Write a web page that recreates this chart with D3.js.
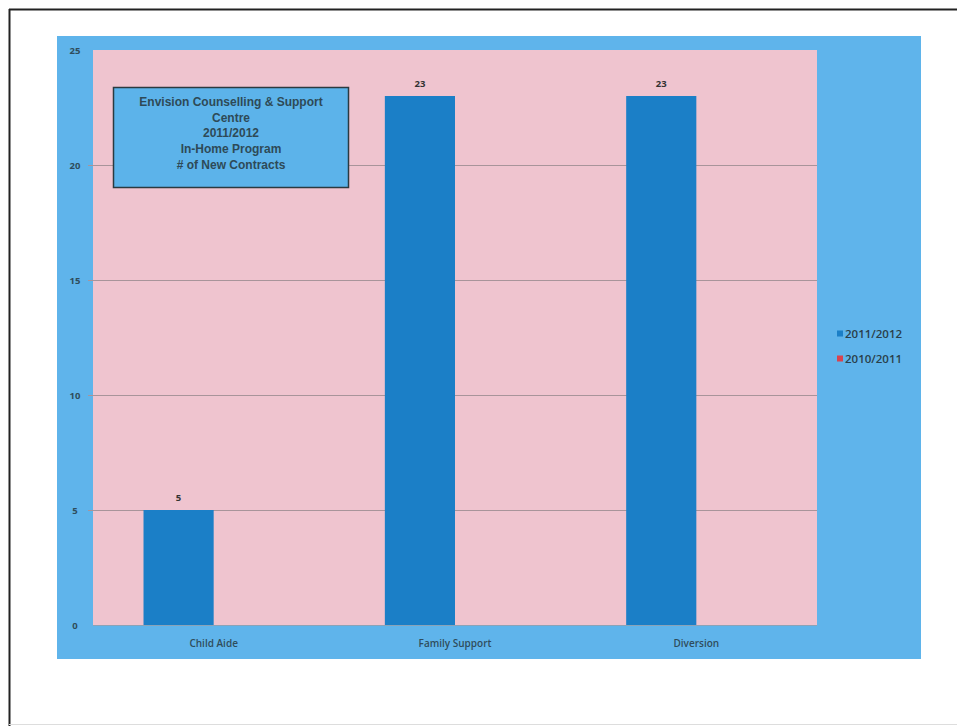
<!DOCTYPE html>
<html><head><meta charset="utf-8">
<script src="https://cdn.jsdelivr.net/npm/d3@7/dist/d3.min.js"></script>
<style>html,body{margin:0;padding:0;background:#fff;}svg{display:block;}</style>
</head><body>
<script>
const categories = ["Child Aide", "Family Support", "Diversion"];
const seriesNames = ["2011/2012", "2010/2011"];
const series2011 = [5, 23, 23];
const series2010 = [0, 0, 0];
const yTicks = [0, 5, 10, 15, 20, 25];
const titleLines = ["Envision Counselling & Support", "Centre", "2011/2012", "In-Home Program", "# of New Contracts"];

const W = 957, H = 726;
const svg = d3.select("body").append("svg").attr("width", W).attr("height", H);

// page frame
svg.append("rect").attr("width", W).attr("height", H).attr("fill", "#fff");
svg.append("line").attr("x1", 9).attr("x2", W).attr("y1", 9.5).attr("y2", 9.5).attr("stroke", "#222").attr("stroke-width", 2);
svg.append("line").attr("x1", 9.5).attr("x2", 9.5).attr("y1", 9).attr("y2", H).attr("stroke", "#222").attr("stroke-width", 2);
svg.append("line").attr("x1", 9).attr("x2", W).attr("y1", 724.5).attr("y2", 724.5).attr("stroke", "#ddd").attr("stroke-width", 1);

// chart background
svg.append("rect").attr("x", 57).attr("y", 36).attr("width", 864).attr("height", 623).attr("fill", "#5fb4eb");

const plot = {left: 93, right: 817, top: 50, bottom: 625};
svg.append("rect").attr("x", plot.left).attr("y", plot.top)
  .attr("width", plot.right - plot.left).attr("height", plot.bottom - plot.top).attr("fill", "#efc4cf");

const x = d3.scaleBand().domain(categories).range([plot.left, plot.right]).padding(0);
const xs = d3.scaleBand().domain(seriesNames).range([0, x.bandwidth()]).paddingInner(0).paddingOuter(0.72);
const y = d3.scaleLinear().domain([0, 25]).range([plot.bottom, plot.top]);

const colors = {"2011/2012": "#1b7fc7", "2010/2011": "#d8434f"};

// gridlines
svg.append("g").selectAll("line").data(yTicks.filter(t => t > 0 && t < 25)).join("line")
  .attr("x1", 88).attr("x2", plot.right)
  .attr("y1", d => Math.round(y(d)) + 0.5).attr("y2", d => Math.round(y(d)) + 0.5)
  .attr("stroke", "#a8949a").attr("stroke-width", 1.2);

// y tick labels
svg.append("g").selectAll("text").data(yTicks).join("text")
  .attr("x", 75).attr("y", d => y(d) + 3.5)
  .attr("text-anchor", "middle")
  .attr("font-family", "Open Sans, DejaVu Sans, sans-serif").attr("font-size", 9.5).attr("font-weight", "bold")
  .attr("fill", "#2f4d5c").text(d => d);

// bars
const data = [];
categories.forEach((c, i) => {
  data.push({cat: c, s: "2011/2012", v: series2011[i]});
  data.push({cat: c, s: "2010/2011", v: series2010[i]});
});
const shown = data.filter(d => d.v > 0);
svg.append("g").selectAll("rect").data(shown).join("rect")
  .attr("x", d => x(d.cat) + xs(d.s))
  .attr("width", xs.bandwidth())
  .attr("y", d => y(d.v))
  .attr("height", d => y(0) - y(d.v))
  .attr("fill", d => colors[d.s]);

// value labels
svg.append("g").selectAll("text").data(shown).join("text")
  .attr("x", d => x(d.cat) + xs(d.s) + xs.bandwidth() / 2)
  .attr("y", d => y(d.v) - 9)
  .attr("text-anchor", "middle")
  .attr("font-family", "Open Sans, DejaVu Sans, sans-serif").attr("font-size", 9.5).attr("font-weight", "bold")
  .attr("fill", "#333").text(d => d.v);

// baseline
svg.append("line").attr("x1", plot.left).attr("x2", plot.right)
  .attr("y1", plot.bottom + 0.5).attr("y2", plot.bottom + 0.5).attr("stroke", "#8aa3b8").attr("stroke-width", 1);

// category labels
svg.append("g").selectAll("text").data(categories).join("text")
  .attr("x", d => x(d) + x.bandwidth() / 2).attr("y", 647)
  .attr("text-anchor", "middle")
  .attr("font-family", "Open Sans, DejaVu Sans, sans-serif").attr("font-size", 10).attr("font-weight", "600")
  .attr("fill", "#2f4d5c").text(d => d);

// legend
const lg = svg.append("g").selectAll("g").data(seriesNames).join("g")
  .attr("transform", (d, i) => `translate(837, ${334 + i * 25})`);
lg.append("rect").attr("x", 0).attr("y", -3.5).attr("width", 6).attr("height", 6).attr("fill", d => colors[d]);
lg.append("text").attr("x", 8).attr("y", 4)
  .attr("font-family", "Open Sans, DejaVu Sans, sans-serif").attr("font-size", 11.5).attr("font-weight", "600")
  .attr("fill", "#2a3f4a").text(d => d);

// title box
svg.append("rect").attr("x", 113.5).attr("y", 87.5).attr("width", 235).attr("height", 100)
  .attr("fill", "#5cb3ea").attr("stroke", "#2b3a40").attr("stroke-width", 1.5);
svg.append("g").selectAll("text").data(titleLines).join("text")
  .attr("x", 231).attr("y", (d, i) => 106 + i * 15.7)
  .attr("text-anchor", "middle")
  .attr("font-family", "Liberation Sans, Arial, sans-serif").attr("font-size", 12).attr("font-weight", "bold")
  .attr("fill", "#2e4a57").text(d => d);
</script>
</body></html>
